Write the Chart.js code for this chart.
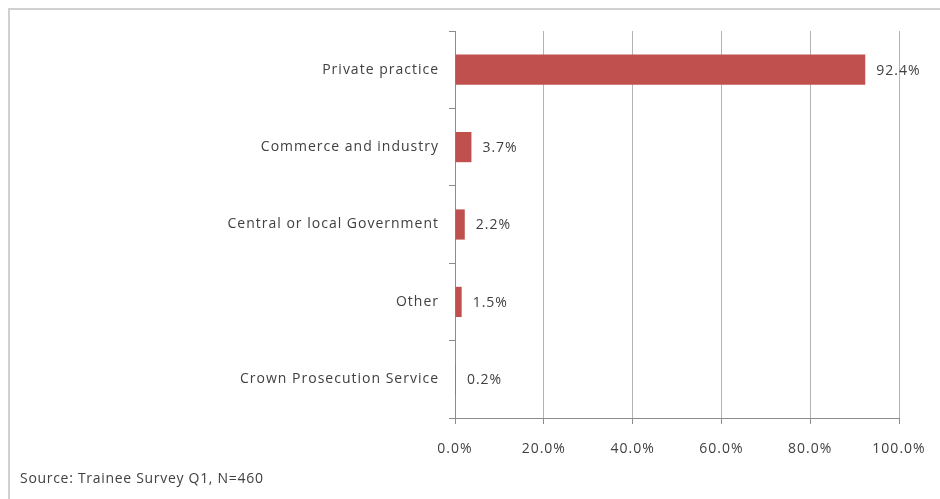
<!DOCTYPE html>
<html>
<head>
<meta charset="utf-8">
<script src="https://cdn.jsdelivr.net/npm/chart.js@4.4.1/dist/chart.umd.min.js"></script>
<style>
  html, body { margin: 0; padding: 0; background: #ffffff; }
  #wrap { width: 940px; height: 499px; position: relative; }
</style>
</head>
<body>
<div id="wrap"><canvas id="sektorChart" width="940" height="499"></canvas></div>
<script>
// kategorier och andelar (procent av svaranden)
const kategorier = ['Private practice', 'Commerce and industry', 'Central or local Government', 'Other', 'Crown Prosecution Service'];
const andelar = [92.4, 3.7, 2.2, 1.5, 0.2];
const xTicks = [0, 20, 40, 60, 80, 100];
const kallText = 'Source: Trainee Survey Q1, N=460';

const textFarg = '#404040';
const typsnitt = "'Open Sans', 'Liberation Sans', sans-serif";

// ram runt diagrammet + källtext längst ner, lite bredare teckenavstånd
const ramOchKalla = {
   id: 'ramOchKalla',
   beforeDraw(chart) {
      const c = chart.ctx;
      c.letterSpacing = '1px';
      c.save();
      c.strokeStyle = '#d0d0d0';
      c.lineWidth = 2;
      c.beginPath();
      c.moveTo(9, chart.height + 5);
      c.lineTo(9, 9);
      c.lineTo(chart.width + 5, 9);
      c.stroke();
      c.restore();
   },
   afterDraw(chart) {
      const c = chart.ctx;
      c.save();
      c.font = '14px ' + typsnitt;
      c.letterSpacing = '0.7px';
      c.fillStyle = textFarg;
      c.textBaseline = 'middle';
      c.textAlign = 'left';
      c.fillText(kallText, 20, 479);
      c.restore();
   }
};

// procentetiketter efter varje stapel
const stapelEtiketter = {
   id: 'stapelEtiketter',
   afterDatasetsDraw(chart) {
      const c = chart.ctx;
      const meta = chart.getDatasetMeta(0);
      c.save();
      c.font = '14px ' + typsnitt;
      c.fillStyle = textFarg;
      c.textBaseline = 'middle';
      c.textAlign = 'left';
      meta.data.forEach((bar, i) => {
         c.fillText(andelar[i].toFixed(1) + '%', bar.x + 11, bar.y + 1);
      });
      c.restore();
   }
};

new Chart(document.getElementById('sektorChart'), {
   type: 'bar',
   data: {
      labels: kategorier,
      datasets: [{
         data: andelar,
         backgroundColor: '#c0504d',
         borderWidth: 0,
         barPercentage: 1,
         categoryPercentage: 0.39
      }]
   },
   plugins: [ramOchKalla, stapelEtiketter],
   options: {
      indexAxis: 'y',
      responsive: false,
      animation: false,
      layout: { padding: { top: 31, right: 41, bottom: 0, left: 0 } },
      plugins: {
         legend: { display: false },
         tooltip: { enabled: false }
      },
      scales: {
         x: {
            min: 0,
            max: 100,
            afterBuildTicks(scale) {
               scale.ticks = xTicks.map(v => ({ value: v }));
            },
            afterFit(scale) { scale.height = 81; },
            grid: { color: '#b4b4b4', lineWidth: 1, tickLength: 6, tickColor: '#8c8c8c' },
            border: { display: true, color: '#8c8c8c' },
            ticks: {
               color: textFarg,
               font: { family: typsnitt, size: 14 },
               padding: 17,
               maxRotation: 0,
               callback: v => v.toFixed(1) + '%'
            }
         },
         y: {
            afterFit(scale) { scale.width = 455; },
            grid: { drawOnChartArea: false, tickLength: 6, color: '#8c8c8c', offset: true },
            border: { display: true, color: '#8c8c8c' },
            ticks: {
               color: textFarg,
               font: { family: typsnitt, size: 14 },
               padding: 10
            }
         }
      }
   }
});
</script>
</body>
</html>
